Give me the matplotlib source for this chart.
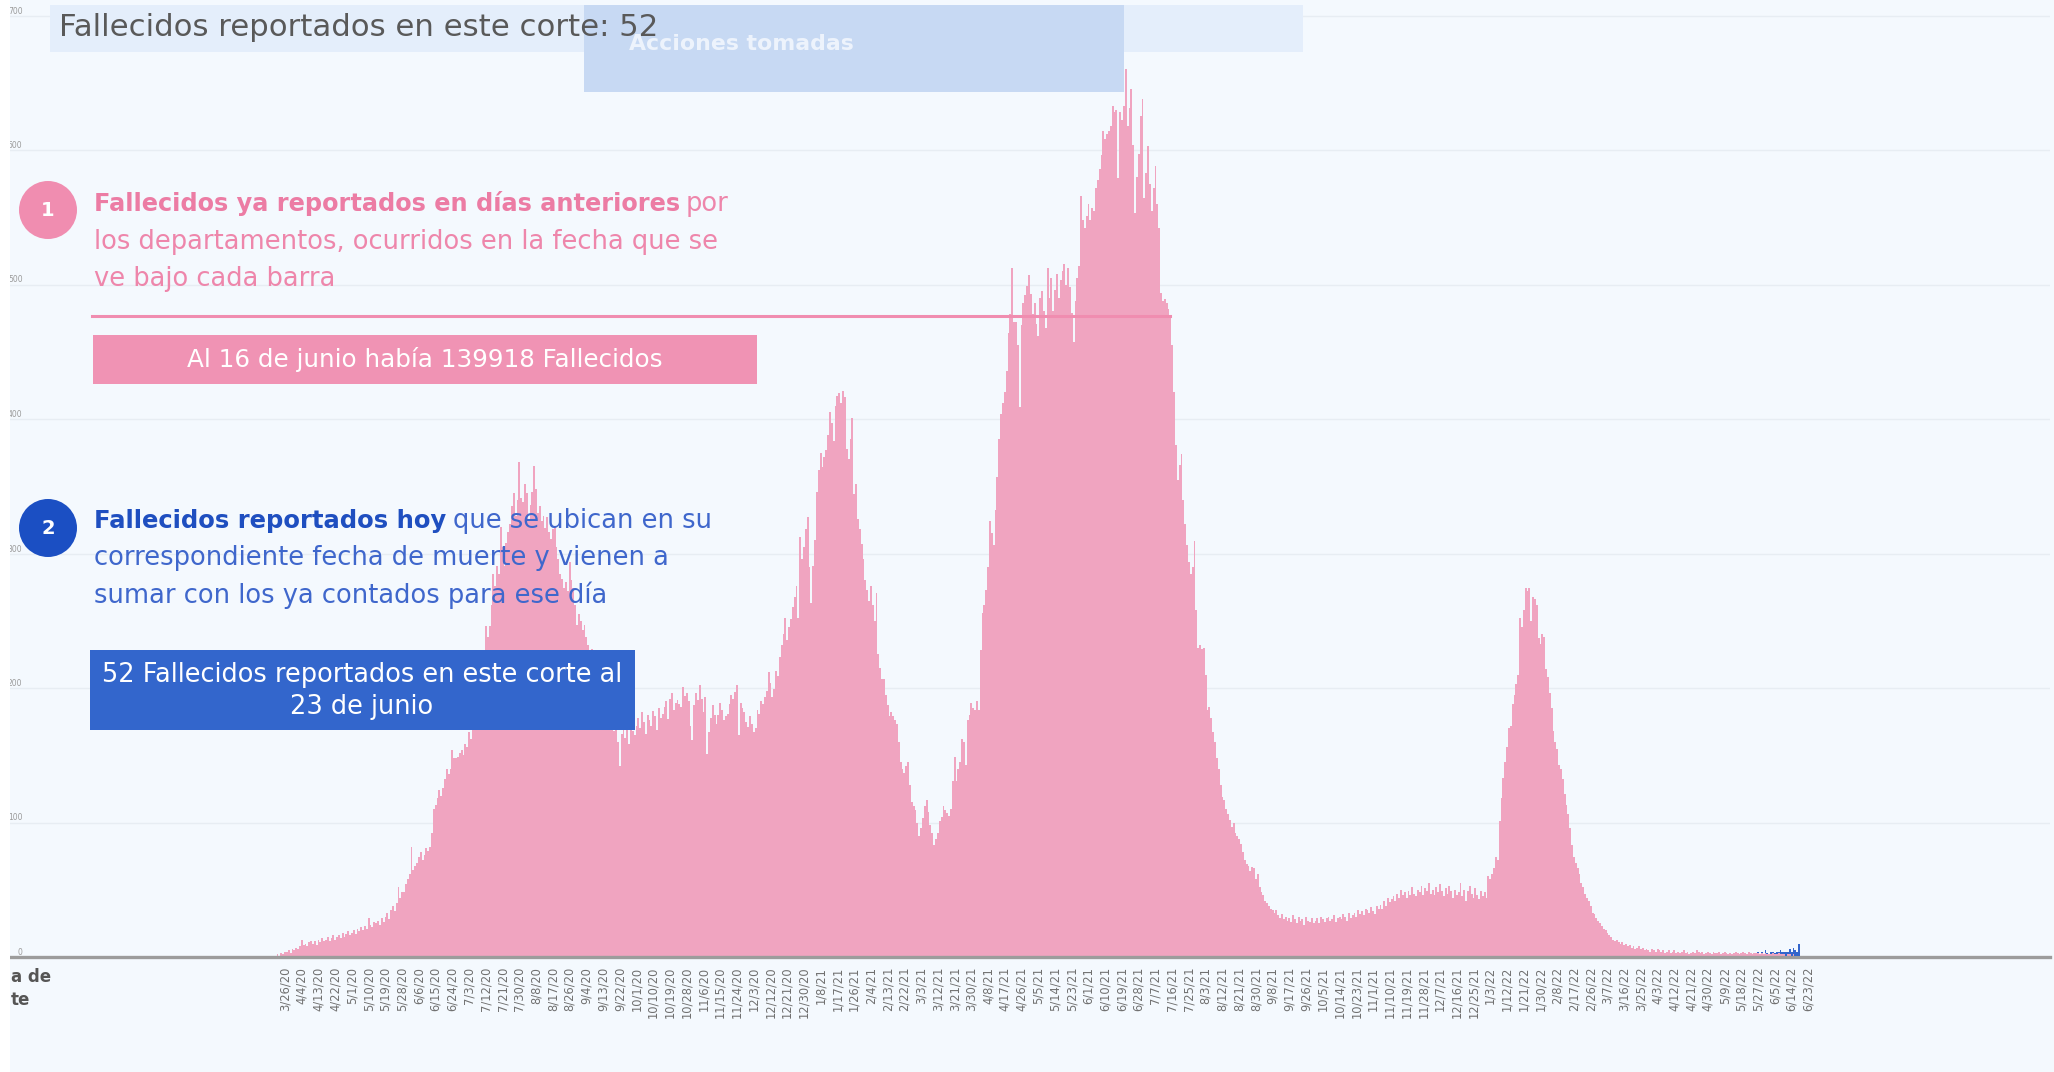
import matplotlib
matplotlib.use("Agg")
import matplotlib.pyplot as plt
import numpy as np
import pandas as pd
from matplotlib.patches import Rectangle, Circle
from matplotlib.lines import Line2D
from matplotlib.transforms import IdentityTransform

# ---------------- DATA ----------------
start_date = "2020-03-20"
# Fallecidos ya reportados (por fecha de muerte), one value per day
deaths_prev = [
    1, 0, 2, 1, 3, 2, 4,
    4, 5, 3, 6, 5, 7, 6,
    8, 13, 9, 10, 8, 11, 12,
    10, 12, 9, 13, 11, 14, 12,
    13, 15, 12, 14, 16, 13, 15,
    16, 14, 18, 15, 17, 19, 16,
    18, 20, 17, 21, 19, 22, 20,
    23, 21, 29, 24, 22, 26, 25,
    27, 24, 29, 26, 30, 33, 28,
    35, 38, 34, 40, 52, 44, 48,
    48, 54, 58, 62, 82, 65, 68,
    70, 74, 78, 72, 76, 81, 79,
    82, 92, 110, 113, 118, 124, 120,
    126, 132, 140, 136, 140, 154, 148,
    148, 149, 152, 154, 150, 158, 156,
    167, 162, 175, 182, 190, 198, 205,
    215, 224, 246, 238, 246, 262, 285,
    276, 291, 285, 320, 305, 291, 308,
    316, 322, 335, 345, 328, 340, 368,
    341, 338, 352, 345, 324, 336, 346,
    365, 348, 330, 335, 324, 328, 319,
    327, 316, 311, 318, 320, 305, 296,
    285, 281, 274, 279, 272, 294, 280,
    274, 262, 247, 255, 250, 243, 247,
    238, 232, 225, 229, 218, 214, 210,
    205, 198, 202, 192, 188, 183, 180,
    175, 168, 172, 160, 142, 166, 170,
    163, 171, 158, 174, 168, 165, 172,
    178, 170, 182, 175, 166, 180, 176,
    172, 183, 179, 169, 185, 178, 181,
    186, 190, 177, 192, 196, 184, 189,
    191, 188, 186, 201, 194, 196, 190,
    172, 161, 187, 196, 191, 202, 192,
    182, 193, 151, 167, 178, 187, 180,
    173, 180, 189, 184, 176, 179, 181,
    188, 195, 192, 197, 202, 165, 189,
    185, 182, 175, 171, 179, 173, 167,
    170, 184, 181, 190, 188, 193, 198,
    212, 204, 193, 199, 213, 209, 223,
    232, 240, 252, 236, 245, 251, 260,
    268, 276, 252, 312, 296, 305, 318,
    327, 290, 263, 291, 310, 346, 362,
    375, 364, 372, 377, 388, 405, 397,
    384, 410, 417, 419, 412, 421, 416,
    378, 370, 385, 401, 344, 352, 326,
    318, 307, 296, 280, 273, 265, 276,
    262, 250, 271, 225, 215, 207, 207,
    195, 187, 179, 182, 179, 176, 173,
    160, 145, 140, 137, 142, 145, 128,
    115, 112, 109, 100, 90, 96, 103,
    112, 117, 108, 98, 92, 83, 88,
    92, 101, 104, 112, 109, 107, 105,
    110, 131, 149, 131, 140, 145, 162,
    160, 143, 176, 180, 189, 185, 184,
    190, 184, 228, 256, 262, 273, 290,
    324, 315, 306, 332, 357, 385, 404,
    412, 420, 436, 464, 478, 512, 472,
    472, 455, 409, 470, 486, 492, 499,
    507, 493, 478, 486, 471, 462, 490,
    495, 480, 468, 512, 490, 505, 480,
    496, 508, 490, 503, 510, 515, 500,
    512, 498, 479, 457, 488, 505, 514,
    566, 548, 542, 551, 560, 548, 557,
    555, 572, 578, 586, 596, 614, 608,
    612, 614, 618, 633, 628, 630, 579,
    628, 622, 633, 660, 618, 631, 645,
    604, 553, 580, 597, 625, 638, 564,
    583, 603, 575, 555, 572, 588, 560,
    542, 494, 488, 489, 486, 482, 477,
    455, 420, 381, 355, 366, 374, 340,
    322, 306, 294, 285, 290, 309, 258,
    230, 232, 229, 230, 210, 184, 186,
    178, 167, 160, 148, 140, 128, 119,
    117, 110, 106, 102, 97, 100, 92,
    90, 88, 84, 78, 72, 69, 68,
    64, 67, 66, 58, 62, 52, 48,
    46, 42, 40, 38, 36, 35, 33,
    35, 31, 29, 32, 28, 30, 27,
    29, 26, 31, 28, 25, 30, 27,
    28, 24, 30, 27, 26, 29, 25,
    27, 29, 25, 30, 28, 26, 29,
    30, 27, 28, 31, 26, 29, 30,
    28, 32, 30, 27, 33, 29, 31,
    33, 30, 35, 32, 34, 31, 36,
    35, 33, 37, 34, 32, 38, 36,
    39, 36, 42, 38, 44, 41, 43,
    45, 42, 47, 44, 50, 46, 48,
    44, 49, 46, 52, 47, 45, 50,
    48, 53, 46, 51, 49, 55, 47,
    50, 46, 52, 48, 54, 49, 45,
    51, 47, 53, 49, 44, 50, 46,
    48, 55, 45, 50, 42, 49, 53,
    47, 44, 51, 46, 43, 49, 45,
    48, 44, 60, 58, 62, 66, 74,
    72, 101, 118, 133, 145, 156, 170,
    172, 188, 195, 203, 210, 252, 245,
    258, 274, 272, 274, 250, 268, 266,
    262, 237, 233, 240, 238, 214, 208,
    196, 185, 168, 160, 155, 143, 140,
    132, 121, 113, 106, 96, 83, 74,
    70, 66, 62, 55, 52, 47, 44,
    42, 38, 33, 32, 29, 27, 25,
    23, 21, 20, 18, 16, 15, 13,
    12, 13, 11, 10, 11, 9, 10,
    8, 9, 7, 8, 6, 7, 8,
    6, 7, 5, 6, 5, 4, 6,
    5, 4, 6, 5, 4, 5, 3,
    4, 5, 3, 4, 5, 3, 4,
    3, 4, 5, 3, 4, 2, 3,
    4, 3, 5, 4, 3, 4, 2,
    3, 4, 3, 2, 4, 3, 3,
    4, 2, 3, 4, 3, 2, 3,
    2, 3, 4, 3, 2, 3, 4,
    3, 2, 4, 3, 2, 3, 3,
    3, 2, 3, 2, 3, 2, 2,
    2, 3, 2, 2, 3, 2, 2,
    2, 1, 2, 2, 1, 2, 1,
    1, 1,
]

today_start = "2022-05-27"
# Fallecidos reportados hoy (52 en total)
deaths_today = [1, 0, 1, 0, 2, 1, 0, 2, 1, 1, 2, 1, 3, 2, 2, 3, 2, 4, 3, 5, 4, 3, 9]

tick_first = "2020-03-26"
tick_last = "2022-06-23"
tick_every_days = 9
y_ticks = [0, 100, 200, 300, 400, 500, 600, 700]

title_text = "Fallecidos reportados en este corte: 52"
acciones_text = "Acciones tomadas"
pink_bold = "Fallecidos ya reportados en días anteriores"
pink_rest = ["por", "los departamentos, ocurridos en la fecha que se", "ve bajo cada barra"]
pink_box_text = "Al 16 de junio había 139918 Fallecidos"
blue_bold = "Fallecidos reportados hoy"
blue_rest = ["que se ubican en su", "correspondiente fecha de muerte y vienen a",
             "sumar con los ya contados para ese día"]
blue_box_lines = ["52 Fallecidos reportados en este corte al", "23 de junio"]
axis_caption_visible = ["a de", "te"]   # visible part of the cropped x-axis caption

# ---------------- FIGURE ----------------
W, H = 2054, 1072
plt.rcParams['font.family'] = ['DejaVu Sans']
fig = plt.figure(figsize=(W / 100, H / 100), dpi=100)
bg = "#F4F9FE"
fig.patch.set_facecolor(bg)

origin = pd.Timestamp(tick_first)
dates = pd.date_range(start_date, periods=len(deaths_prev), freq="D")
xs = np.asarray((dates - origin).days)
prev_by_day = dict(zip(xs, deaths_prev))

tdates = pd.date_range(today_start, periods=len(deaths_today), freq="D")
xt = np.asarray((tdates - origin).days)
bottoms = [prev_by_day.get(d, 0) for d in xt]

# axes: value 0 at y=957px from top, 1.345 px per death, 1.86 px per day
y0_px = 957
px_per_unit = 1.345
x0_px = 285
px_per_day = 1.86
ax_left, ax_right = 10, 2050
ax = fig.add_axes([ax_left / W, (H - y0_px) / H, (ax_right - ax_left) / W, y0_px / H])
ax.set_facecolor(bg)
ax.set_xlim((ax_left - x0_px) / px_per_day, (ax_right - x0_px) / px_per_day)
ax.set_ylim(0, y0_px / px_per_unit)

ax.bar(xs, deaths_prev, width=1.0, color="#F0A4C0", linewidth=0, zorder=2)
ax.bar(xt, deaths_today, bottom=bottoms, width=1.0, color="#3366CC", linewidth=0, zorder=3)

ax.set_yticks(y_ticks)
ax.set_yticklabels([str(v) for v in y_ticks])
ax.grid(axis="y", color="#E7EDF3", linewidth=1.0, zorder=0)
ax.set_axisbelow(True)
ax.tick_params(axis="y", length=0, pad=-9, labelsize=5.5, labelcolor="#9A9A9A")
for lab in ax.get_yticklabels():
    lab.set_verticalalignment("bottom")

ticks = pd.date_range(tick_first, tick_last, freq=f"{tick_every_days}D")
ax.set_xticks(np.asarray((ticks - origin).days))
ax.set_xticklabels([f"{t.month}/{t.day}/{t.year % 100}" for t in ticks],
                   rotation=90, fontsize=8.3, color="#707070")
ax.tick_params(axis="x", length=0, pad=7)

for s in ["top", "right", "left"]:
    ax.spines[s].set_visible(False)
ax.spines["bottom"].set_color("#9C9C9C")
ax.spines["bottom"].set_linewidth(2.4)

# ---------------- ANNOTATIONS ----------------
ID = IdentityTransform()
renderer = fig.canvas.get_renderer()


def T(x, y, s, **kw):
    kw.setdefault("zorder", 5)
    return fig.text(x, H - y, s, transform=ID, **kw)


def wid(t):
    return t.get_window_extent(renderer).width


def fit(t, target):
    for _ in range(2):
        t.set_fontsize(t.get_fontsize() * target / wid(t))
    return t.get_fontsize()


def rect(x0, y0, x1, y1, color, z=3):
    fig.add_artist(Rectangle((x0, H - y1), x1 - x0, y1 - y0, transform=ID,
                             facecolor=color, edgecolor="none", zorder=z))


# title band + acciones box
rect(50, 5, 1303, 52, "#E4EEFB", z=3)
rect(584, 5, 1124, 92, "#C7D9F3", z=3)
t = T(59, 27, title_text, fontsize=18, color="#595959", va="center", ha="left", zorder=6)
fit(t, 600)
t = T(629, 44, acciones_text, fontsize=12, color="#EDF3FC", va="center", ha="left",
      weight="bold", zorder=6)
fit(t, 225)

# circles
pink = "#F08DB0"
for (cx, cy, col, lab) in [(48, 210, pink, "1"), (48, 528, "#1B4FC3", "2")]:
    fig.add_artist(Circle((cx, H - cy), 29, transform=ID, facecolor=col,
                          edgecolor="none", zorder=4))
    T(cx, cy + 1, lab, fontsize=14, weight="bold", color="white", ha="center",
      va="center", zorder=6)

# pink text
pink_txt = "#EE86AB"
t2 = T(94, 242, pink_rest[1], fontsize=12, color=pink_txt, va="center", ha="left")
fs = fit(t2, 623)
tb = T(94, 204, pink_bold, fontsize=fs, color="#EC7CA4", weight="bold", va="center", ha="left")
fit(tb, 585)
T(686, 204, pink_rest[0], fontsize=fs, color=pink_txt, va="center", ha="left")
T(94, 279, pink_rest[2], fontsize=fs, color=pink_txt, va="center", ha="left")

# pink line
fig.add_artist(Line2D([92, 1170], [H - 316, H - 316], transform=ID, color=pink,
                      linewidth=2.2, zorder=4))

# pink box
rect(93, 335, 757, 384, "#F093B4", z=4)
t = T(425, 360, pink_box_text, fontsize=12, color="white", ha="center", va="center")
fit(t, 475)

# blue text
blue_txt = "#3F67CC"
tb = T(94, 521, blue_bold, fontsize=fs, color="#1F4FC0", weight="bold", va="center", ha="left")
fit(tb, 353)
t = T(453, 521, blue_rest[0], fontsize=fs, color=blue_txt, va="center", ha="left")
T(94, 558, blue_rest[1], fontsize=fs, color=blue_txt, va="center", ha="left")
T(94, 595, blue_rest[2], fontsize=fs, color=blue_txt, va="center", ha="left")

# blue box
rect(90, 650, 635, 730, "#3366CC", z=4)
t = T(362, 675, blue_box_lines[0], fontsize=12, color="white", ha="center", va="center")
fsb = fit(t, 520)
T(362, 707, blue_box_lines[1], fontsize=fsb, color="white", ha="center", va="center")

# x-axis caption (cropped at the left edge in the reference)
T(11, 977, axis_caption_visible[0], fontsize=12, weight="bold", color="#555555",
  ha="left", va="center")
T(11, 1000, axis_caption_visible[1], fontsize=12, weight="bold", color="#555555",
  ha="left", va="center")

# white left strip
rect(0, 0, 10, H, "white", z=4)

fig.savefig("out.png", dpi=100, facecolor=fig.get_facecolor())
